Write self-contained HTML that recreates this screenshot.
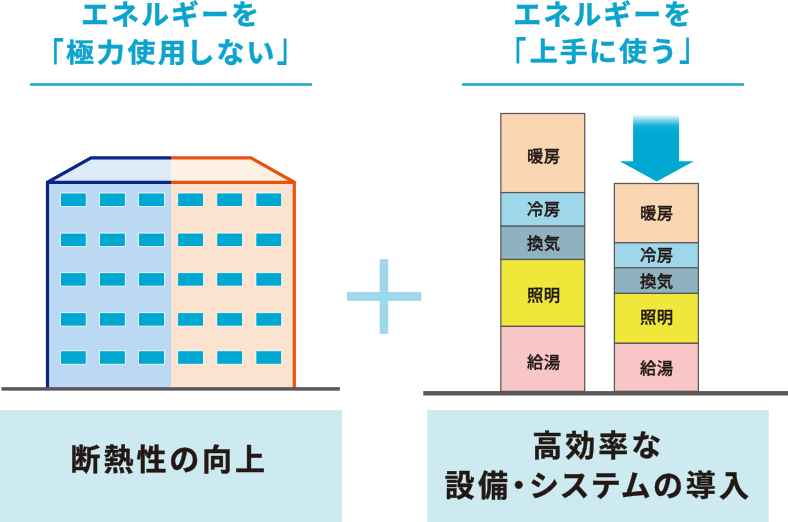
<!DOCTYPE html>
<html lang="ja">
<head>
<meta charset="utf-8">
<title>エネルギーを極力使用しない／上手に使う</title>
<style>
html,body{margin:0;padding:0;background:#fff;}
body{width:788px;height:522px;overflow:hidden;position:relative;font-family:"Liberation Sans","Noto Sans CJK JP",sans-serif;}
svg{position:absolute;left:0;top:0;display:block;}
#txt{position:absolute;left:0;top:0;width:788px;height:522px;will-change:transform;}
.t{position:absolute;white-space:nowrap;line-height:1;}
.bl,.br{display:inline-block;font-weight:500;transform:scaleY(1.42);-webkit-text-stroke:0.15px #0fa5cf;}
.bl{transform-origin:50% 1.8px;}
.br{transform-origin:50% 27.2px;}
.title{color:#0ca4ce;font-weight:700;font-size:28px;letter-spacing:2px;-webkit-text-stroke:0.45px #0ca4ce;}
.k{display:inline-block;transform:scaleY(0.94);transform-origin:50% 12px;}
.cap{color:#231815;-webkit-text-stroke:0.4px #231815;font-weight:700;font-size:30px;letter-spacing:3px;font-feature-settings:"palt";}
.lbl{color:#231815;font-weight:500;-webkit-text-stroke:0.35px #231815;font-size:16.4px;letter-spacing:0.3px;text-indent:0.3px;text-align:center;}
</style>
</head>
<body>
<svg width="788" height="522" viewBox="0 0 788 522">
  <defs>
    <linearGradient id="ag" x1="0" y1="0" x2="0" y2="1">
      <stop offset="0" stop-color="#00abd5" stop-opacity="0.05"/>
      <stop offset="0.11" stop-color="#00abd5" stop-opacity="0.5"/>
      <stop offset="0.23" stop-color="#00abd5" stop-opacity="0.93"/>
      <stop offset="0.42" stop-color="#00a7d1" stop-opacity="1"/>
      <stop offset="1" stop-color="#00a7d1" stop-opacity="1"/>
    </linearGradient>
  </defs>
  <!-- title underlines -->
  <rect x="30" y="83.3" width="282" height="2.4" fill="#0fa5cf"/>
  <rect x="462" y="83.3" width="282" height="2.4" fill="#0fa5cf"/>

  <!-- building -->
  <polygon points="91,157.9 171,157.9 171,182.3 47.5,182.3" fill="#ddebf9"/>
  <polygon points="171,157.9 250.8,157.9 294,182.3 171,182.3" fill="#fef2e5"/>
  <rect x="47.5" y="182.3" width="123.5" height="206" fill="#bbd9f2"/>
  <rect x="171" y="182.3" width="123" height="206" fill="#fce3cf"/>
  <g id="wins" fill="#00a7d1" stroke="#fff" stroke-width="0.8">
    <rect x="60.4" y="193" width="25.8" height="13.4"/>
    <rect x="99.5" y="193" width="25.8" height="13.4"/>
    <rect x="138.6" y="193" width="25.8" height="13.4"/>
    <rect x="177.7" y="193" width="25.8" height="13.4"/>
    <rect x="216.8" y="193" width="25.8" height="13.4"/>
    <rect x="255.9" y="193" width="25.8" height="13.4"/>
    <rect x="60.4" y="233.1" width="25.8" height="13.4"/>
    <rect x="99.5" y="233.1" width="25.8" height="13.4"/>
    <rect x="138.6" y="233.1" width="25.8" height="13.4"/>
    <rect x="177.7" y="233.1" width="25.8" height="13.4"/>
    <rect x="216.8" y="233.1" width="25.8" height="13.4"/>
    <rect x="255.9" y="233.1" width="25.8" height="13.4"/>
    <rect x="60.4" y="272.7" width="25.8" height="13.4"/>
    <rect x="99.5" y="272.7" width="25.8" height="13.4"/>
    <rect x="138.6" y="272.7" width="25.8" height="13.4"/>
    <rect x="177.7" y="272.7" width="25.8" height="13.4"/>
    <rect x="216.8" y="272.7" width="25.8" height="13.4"/>
    <rect x="255.9" y="272.7" width="25.8" height="13.4"/>
    <rect x="60.4" y="312.7" width="25.8" height="13.4"/>
    <rect x="99.5" y="312.7" width="25.8" height="13.4"/>
    <rect x="138.6" y="312.7" width="25.8" height="13.4"/>
    <rect x="177.7" y="312.7" width="25.8" height="13.4"/>
    <rect x="216.8" y="312.7" width="25.8" height="13.4"/>
    <rect x="255.9" y="312.7" width="25.8" height="13.4"/>
    <rect x="60.4" y="350.8" width="25.8" height="13.4"/>
    <rect x="99.5" y="350.8" width="25.8" height="13.4"/>
    <rect x="138.6" y="350.8" width="25.8" height="13.4"/>
    <rect x="177.7" y="350.8" width="25.8" height="13.4"/>
    <rect x="216.8" y="350.8" width="25.8" height="13.4"/>
    <rect x="255.9" y="350.8" width="25.8" height="13.4"/>
  </g>
  <g fill="none" stroke-width="3.2" stroke-linejoin="miter" stroke-miterlimit="10">
    <path d="M47.5,388 L47.5,182.3 L91,157.9 L171,157.9 M47.5,182.3 L171,182.3" stroke="#0b2488"/>
    <path d="M294.3,388 L294.3,182.3 L251,157.9 L171,157.9 M294.3,182.3 L171,182.3" stroke="#e8520f"/>
  </g>
  <rect x="1.5" y="387.15" width="338.4" height="3.5" fill="#595757"/>

  <!-- plus -->
  <rect x="347" y="292.1" width="74.3" height="8.8" fill="#9fd8ea"/>
  <rect x="379.7" y="259.2" width="8.5" height="74.6" fill="#9fd8ea"/>

  <!-- bar 1 -->
  <g stroke="#595757" stroke-width="1.25">
    <rect x="500.85" y="113.5" width="83.85" height="79.1" fill="#fad6b3"/>
    <rect x="500.85" y="192.6" width="83.85" height="33.6" fill="#9fd7ea"/>
    <rect x="500.85" y="226.2" width="83.85" height="33.3" fill="#8fb2c1"/>
    <rect x="500.85" y="259.5" width="83.85" height="66.9" fill="#efe73a"/>
    <rect x="500.85" y="326.4" width="83.85" height="65" fill="#f9c6c7"/>
  </g>
  <!-- bar 2 -->
  <g stroke="#595757" stroke-width="1.25">
    <rect x="614.4" y="183.5" width="84" height="59.3" fill="#fad6b3"/>
    <rect x="614.4" y="242.8" width="84" height="25" fill="#9fd7ea"/>
    <rect x="614.4" y="267.8" width="84" height="25.6" fill="#8fb2c1"/>
    <rect x="614.4" y="293.4" width="84" height="49.9" fill="#efe73a"/>
    <rect x="614.4" y="343.3" width="84" height="48" fill="#f9c6c7"/>
  </g>
  <!-- arrow -->
  <rect x="633.1" y="114.8" width="46" height="47.5" fill="url(#ag)"/>
  <polygon points="619.7,161.3 693.8,161.3 656.7,181.4" fill="#00a7d1"/>
  <!-- ground right -->
  <rect x="423.3" y="391.1" width="364.7" height="4.4" fill="#595757"/>

  <!-- bottom boxes -->
  <rect x="0" y="410" width="342" height="112" fill="#ceeaf1"/>
  <rect x="427.3" y="410" width="341.5" height="112" fill="#ceeaf1"/>
</svg>

<div id="txt">
<div class="t title" style="left:81px;top:2px;">エネルギーを</div>
<div class="t title" style="left:36px;top:40px;"><span class="bl">「</span><span class="k" style="letter-spacing:2.7px;margin-right:-2.3px;">極力使用</span>しない<span class="br">」</span></div>
<div class="t title" style="left:513.2px;top:2px;">エネルギーを</div>
<div class="t title" style="left:498.5px;top:39px;"><span class="bl">「</span><span class="k" style="margin-left:1.2px;margin-right:-0.8px;">上手</span>に<span class="k">使</span>う<span class="br">」</span></div>

<div class="t lbl" style="left:501.3px;width:84.4px;top:148px;">暖房</div>
<div class="t lbl" style="left:501.3px;width:84.4px;top:201px;">冷房</div>
<div class="t lbl" style="left:501.3px;width:84.4px;top:235px;">換気</div>
<div class="t lbl" style="left:501.3px;width:84.4px;top:287px;">照明</div>
<div class="t lbl" style="left:501.3px;width:84.4px;top:354px;">給湯</div>

<div class="t lbl" style="left:614.4px;width:84.4px;top:206px;transform:translateY(-0.7px);">暖房</div>
<div class="t lbl" style="left:614.4px;width:84.4px;top:247px;">冷房</div>
<div class="t lbl" style="left:614.4px;width:84.4px;top:273px;">換気</div>
<div class="t lbl" style="left:614.4px;width:84.4px;top:309px;">照明</div>
<div class="t lbl" style="left:614.4px;width:84.4px;top:360px;">給湯</div>

<div class="t cap" style="left:70.4px;top:445px;">断熱性の向上</div>
<div class="t cap" style="left:532.3px;top:431px;">高効率な</div>
<div class="t cap" style="left:444.8px;top:471px;letter-spacing:3.25px;">設備・システムの導入</div>
</div>

</body>
</html>
